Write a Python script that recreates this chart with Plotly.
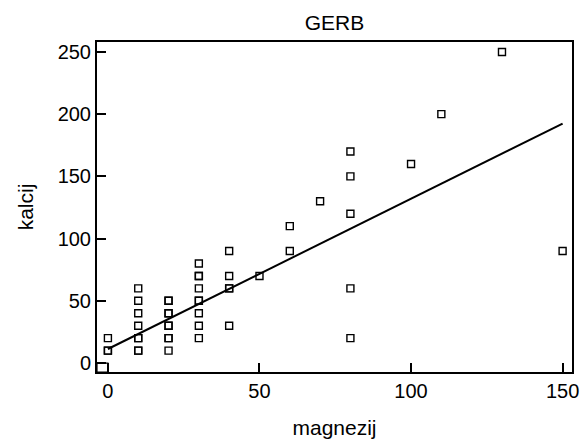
import plotly.graph_objects as go

magnezij = [0, 0, 0,
            10, 10, 10, 10, 10, 10, 10, 10,
            20, 20, 20, 20, 20, 20, 20, 20, 20,
            30, 30, 30, 30, 30, 30, 30, 30, 30,
            40, 40, 40, 40, 40,
            50,
            60, 60,
            70,
            80, 80, 80, 80, 80,
            100, 110, 130, 150]
kalcij = [10, 10, 20,
          10, 10, 20, 20, 30, 40, 50, 60,
          10, 20, 20, 30, 30, 40, 40, 50, 50,
          20, 30, 40, 50, 50, 60, 70, 70, 80,
          30, 60, 60, 70, 90,
          70,
          90, 110,
          130,
          20, 60, 120, 150, 170,
          160, 200, 250, 90]

fit_x = [0, 150]
fit_y = [11.3, 192.4]

x_range = [-3.6, 153.1]
y_range = [-7.2, 258]
x_ticks = [0, 50, 100, 150]
y_ticks = [0, 50, 100, 150, 200, 250]

font = "Liberation Sans, Arial, sans-serif"

fig = go.Figure()
fig.add_trace(go.Scatter(
    x=magnezij, y=kalcij, mode="markers",
    marker=dict(symbol="square-open", size=7, color="black", line=dict(width=1.4, color="black")),
    showlegend=False, cliponaxis=True))
fig.add_trace(go.Scatter(
    x=fit_x, y=fit_y, mode="lines",
    line=dict(color="black", width=2), showlegend=False))

# small box at the origin corner
fig.add_shape(type="rect", xref="x", yref="y",
              x0=x_range[0], x1=0, y0=y_range[0], y1=0,
              line=dict(color="black", width=1.2))

fig.update_layout(
    width=585, height=445,
    margin=dict(l=97, r=13, t=42, b=73),
    paper_bgcolor="white", plot_bgcolor="white",
    font=dict(family=font, size=20, color="black"),
    title=dict(text="GERB", x=0.5, xref="paper", y=1, yref="paper",
               yanchor="bottom", pad=dict(b=12), font=dict(size=21)),
)
fig.update_xaxes(
    range=x_range, tickvals=x_ticks, ticks="inside", ticklen=9, tickwidth=1.5,
    tickcolor="black", showline=True, linecolor="black", linewidth=2, mirror=True,
    showgrid=False, zeroline=False, automargin=False,
    title=dict(text="magnezij", standoff=19, font=dict(size=21)),
    tickfont=dict(size=20))
fig.update_yaxes(
    range=y_range, tickvals=y_ticks, ticks="inside", ticklen=9, tickwidth=1.5,
    tickcolor="black", showline=True, linecolor="black", linewidth=2, mirror=True,
    showgrid=False, zeroline=False, automargin=False,
    title=dict(text="kalcij", standoff=18, font=dict(size=21)),
    tickfont=dict(size=20))

fig.write_html("out.html", config={"displayModeBar": False},
               post_script="document.body.style.margin='0';")
